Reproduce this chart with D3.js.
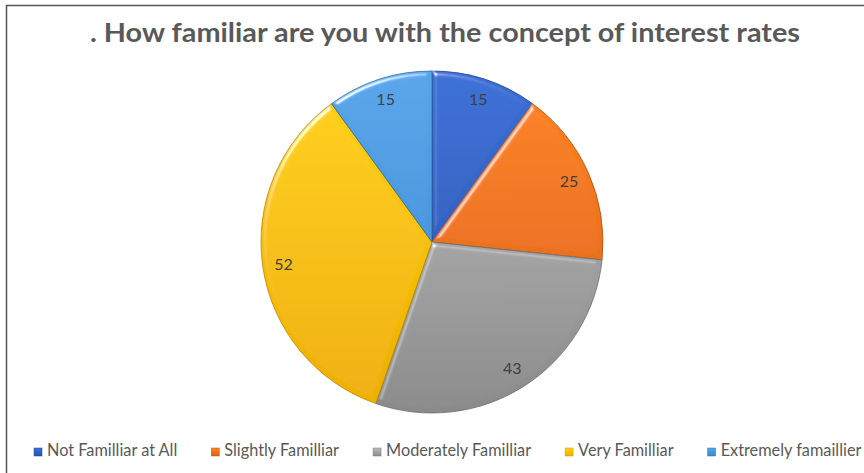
<!DOCTYPE html>
<html>
<head>
<meta charset="utf-8">
<script src="https://cdn.jsdelivr.net/npm/d3@7.9.0/dist/d3.min.js"></script>
<style>
  body { margin: 0; background: #fff; }
  svg { display: block; }
</style>
</head>
<body>
<svg id="chart" width="864" height="473"></svg>
<script>
// chart data
const title = '. How familiar are you with the concept of interest rates';
const categories = ['Not Familliar at All', 'Slightly Familliar', 'Moderately Familliar', 'Very Familliar', 'Extremely famaillier'];
const values = [15, 25, 43, 52, 15];
const colorsTop = ['#3a6fd6', '#fd8421', '#bcbcbc', '#ffd20f', '#58a5ea'];
const colorsBottom = ['#2654ae', '#dc6016', '#8a8a8a', '#eeae00', '#3787d0'];

const svg = d3.select('#chart');
const W = 864, H = 473;
const cx = 432, cy = 242, radius = 171;

const defs = svg.append('defs');

// soft bevel on the slice edges
const bevel = defs.append('filter').attr('id', 'bevel')
  .attr('x', '-5%').attr('y', '-5%').attr('width', '110%').attr('height', '110%');
bevel.append('feGaussianBlur').attr('in', 'SourceAlpha').attr('stdDeviation', 2.5).attr('result', 'blur');
bevel.append('feSpecularLighting')
  .attr('in', 'blur').attr('surfaceScale', 3).attr('specularConstant', 0.8)
  .attr('specularExponent', 45).attr('lighting-color', '#ffffff').attr('result', 'spec')
  .append('feDistantLight').attr('azimuth', 235).attr('elevation', 40);
bevel.append('feComposite').attr('in', 'spec').attr('in2', 'SourceAlpha').attr('operator', 'in').attr('result', 'specIn');
bevel.append('feComposite').attr('in', 'SourceGraphic').attr('in2', 'specIn')
  .attr('operator', 'arithmetic').attr('k1', 0).attr('k2', 1).attr('k3', 1).attr('k4', 0);

categories.forEach((c, i) => {
  const g = defs.append('linearGradient').attr('id', 'grad' + i)
    .attr('gradientUnits', 'userSpaceOnUse')
    .attr('x1', 0).attr('y1', -radius).attr('x2', 0).attr('y2', radius);
  g.append('stop').attr('offset', '0%').attr('stop-color', colorsTop[i]);
  g.append('stop').attr('offset', '100%').attr('stop-color', colorsBottom[i]);

  const lg = defs.append('linearGradient').attr('id', 'lg' + i)
    .attr('x1', 0).attr('y1', 0).attr('x2', 0).attr('y2', 1);
  lg.append('stop').attr('offset', '0%').attr('stop-color', colorsTop[i]);
  lg.append('stop').attr('offset', '100%').attr('stop-color', colorsBottom[i]);
});

// chart frame
svg.append('path')
  .attr('d', `M6.5,${H} V5.5 H${W}`)
  .attr('fill', 'none').attr('stroke', '#555').attr('stroke-width', 1.5);

// title
svg.append('text')
  .attr('x', 445).attr('y', 42)
  .attr('text-anchor', 'middle')
  .attr('font-family', 'Lato, "Open Sans", sans-serif')
  .attr('font-weight', 'bold')
  .attr('font-size', 26)
  .attr('fill', '#595959')
  .attr('textLength', 710)
  .attr('lengthAdjust', 'spacingAndGlyphs')
  .text(title);

// pie
const data = categories.map((c, i) => ({ label: c, value: values[i], i }));
const pie = d3.pie().sort(null).value(d => d.value);
const arcs = pie(data);
const arc = d3.arc().innerRadius(0).outerRadius(radius);
const labelArc = d3.arc().innerRadius(150).outerRadius(150);

const gPie = svg.append('g').attr('transform', `translate(${cx},${cy})`);

gPie.selectAll('path')
  .data(arcs)
  .enter()
  .append('path')
    .attr('d', arc)
    .attr('fill', d => `url(#grad${d.data.i})`)
    .attr('stroke', d => d3.color(colorsBottom[d.data.i]).darker(0.7))
    .attr('stroke-width', 0.8)
    .attr('filter', 'url(#bevel)');

gPie.selectAll('text')
  .data(arcs)
  .enter()
  .append('text')
    .attr('transform', d => `translate(${labelArc.centroid(d)})`)
    .attr('text-anchor', 'middle')
    .attr('dy', '0.35em')
    .attr('font-family', 'Lato, "Open Sans", sans-serif')
    .attr('font-size', 16)
    .attr('fill', '#404040')
    .text(d => d.data.value);

// legend
const legend = svg.append('g');
const legendFont = 15;
const items = legend.selectAll('g')
  .data(data)
  .enter()
  .append('g');

items.append('rect')
  .attr('width', 8).attr('height', 8)
  .attr('y', 448)
  .attr('fill', d => `url(#lg${d.i})`)
  .attr('stroke', d => d3.color(colorsBottom[d.i]).darker(0.3))
  .attr('stroke-width', 0.5);

const labels = items.append('text')
  .attr('y', 456)
  .attr('font-family', 'Lato, "Open Sans", sans-serif')
  .attr('font-size', legendFont)
  .attr('fill', '#595959')
  .text(d => d.label);

// fit the legend row between x=34 and x=862
const gap = 34, textOff = 13;
let widths = labels.nodes().map(n => n.getComputedTextLength());
const fixed = categories.length * textOff + (categories.length - 1) * gap;
const scale = (862 - 34 - fixed) / d3.sum(widths);
labels.attr('font-size', legendFont * scale);
widths = labels.nodes().map(n => n.getComputedTextLength());

let x = 34;
items.each(function (d, i) {
  d3.select(this).attr('transform', `translate(${x},0)`);
  d3.select(this).select('text').attr('x', textOff);
  x += textOff + widths[i] + gap;
});
</script>
</body>
</html>
